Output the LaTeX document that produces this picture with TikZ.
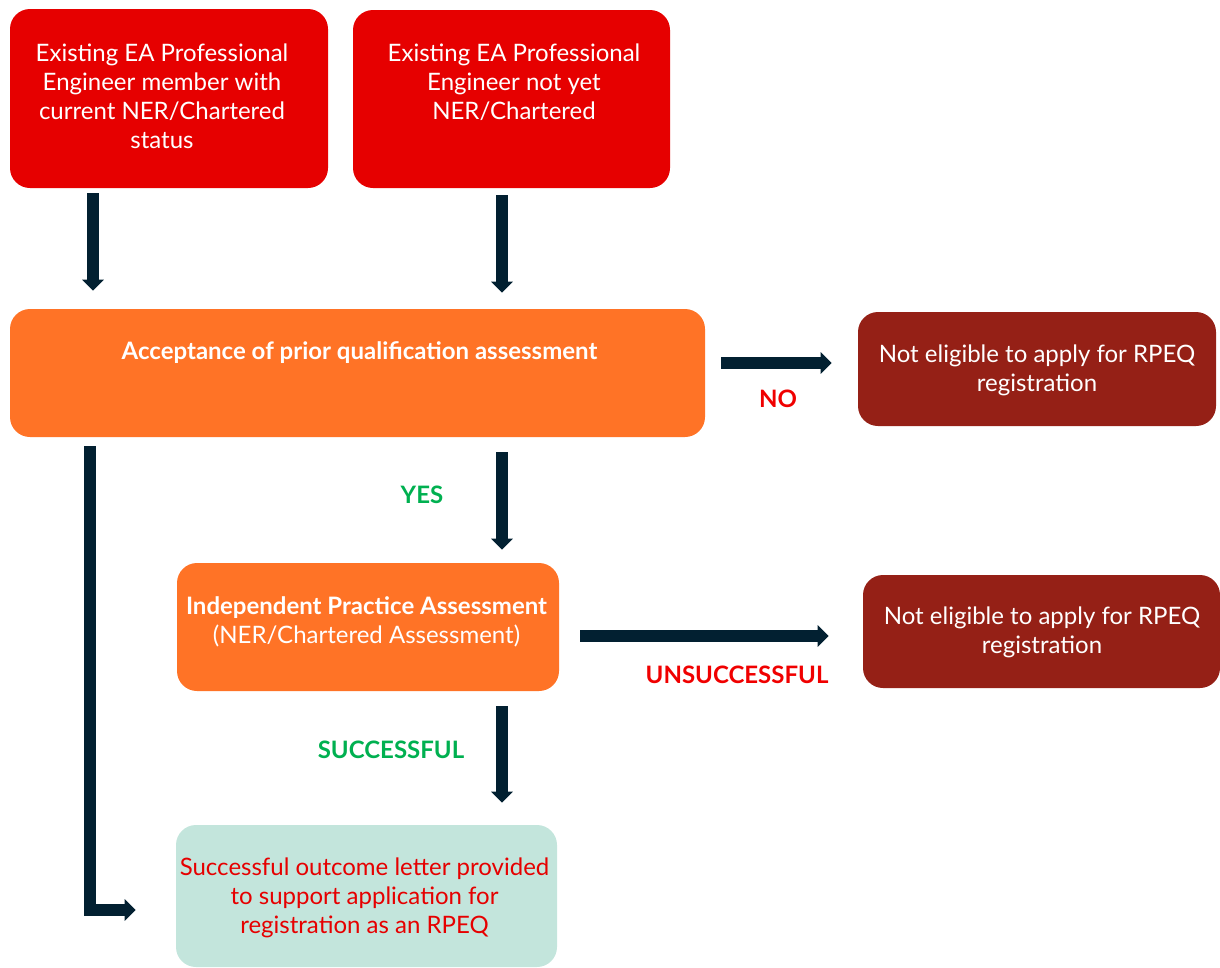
\documentclass[tikz,border=0pt]{standalone}
\usepackage{fontspec}
\setmainfont{Lato}
\usetikzlibrary{arrows.meta}
\definecolor{boxred}{HTML}{E60000}
\definecolor{boxorange}{HTML}{FF7326}
\definecolor{boxdark}{HTML}{952016}
\definecolor{boxmint}{HTML}{C3E5DC}
\definecolor{arrnavy}{HTML}{022031}
\definecolor{labred}{HTML}{F00000}
\definecolor{labgreen}{HTML}{00B050}
\definecolor{txtred}{HTML}{E60000}
\tikzset{
  box/.style={rounded corners=15pt, inner sep=0pt},
  txt/.style={align=center, font=\fontsize{18}{21.75}\selectfont, text=white, inner sep=0pt},
  lab/.style={font=\fontsize{18}{20}\selectfont\bfseries, inner sep=0pt},
  arr/.style={draw=arrnavy, line width=9.4pt, line join=miter,
    -{Triangle[width=15.75pt,length=8.25pt]}}
}
\begin{document}
\begin{tikzpicture}[x=0.75pt,y=-0.75pt]
\useasboundingbox (0,0) rectangle (1220,967);
% boxes
\node[box, fill=boxred, minimum width=238.5pt, minimum height=134.25pt] (A) at (169,98.5) {};
\node[box, fill=boxred, minimum width=237.75pt, minimum height=133.5pt] (B) at (511.5,99) {};
\node[box, fill=boxorange, minimum width=521.25pt, minimum height=96pt] (C) at (357.5,373) {};
\node[box, fill=boxdark, minimum width=268.5pt, minimum height=85.5pt] (D) at (1037,369) {};
\node[box, fill=boxorange, minimum width=286.5pt, minimum height=96pt] (E) at (368,627) {};
\node[box, fill=boxdark, minimum width=267.75pt, minimum height=84.75pt] (F) at (1041.5,631.5) {};
\node[box, fill=boxmint, minimum width=285.75pt, minimum height=106.5pt] (G) at (366.5,896) {};
% texts
\node[txt] (At) at (162,96) {Existing EA Professional\\Engineer member with\\current NER/Chartered\\status};
\node[txt] (Bt) at (514,82.5) {Existing EA Professional\\Engineer not yet\\NER/Chartered};
\node[txt, font=\fontsize{18}{21.75}\selectfont\bfseries] (Ct) at (359.5,353) {Acceptance of prior qualification assessment};
\node[txt] (Dt) at (1037,370.5) {Not eligible to apply for RPEQ\\registration};
\node[txt] (Et) at (366.5,622) {\textbf{Independent Practice Assessment}\\(NER/Chartered Assessment)};
\node[txt] (Ft) at (1042,632.5) {Not eligible to apply for RPEQ\\registration};
\node[txt, text=txtred] (Gt) at (364.5,898) {Successful outcome letter provided\\to support application for\\registration as an RPEQ};
% labels
\node[lab, text=labred] (lno) at (778,399) {NO};
\node[lab, text=labgreen] (lyes) at (422,495) {YES};
\node[lab, text=labred] (lun) at (737,675) {UNSUCCESSFUL};
\node[lab, text=labgreen] (lsu) at (391,750) {SUCCESSFUL};
% arrow guide coordinates
\coordinate (xa) at (93,0);
\coordinate (xb) at (502,0);
\coordinate (yno) at (0,363);
\coordinate (yun) at (0,636);
\coordinate (el) at (90,910);
% arrows
\draw[arr, shorten <=3.75pt, shorten >=13.5pt] (A.south -| xa) -- (C.north -| xa);
\draw[arr, shorten <=5.25pt, shorten >=12pt] (B.south -| xb) -- (C.north -| xb);
\draw[arr, shorten <=12pt, shorten >=19.5pt] (C.east |- yno) -- (D.west |- yno);
\draw[arr, shorten <=11.25pt, shorten >=9.75pt] (C.south -| xb) -- (E.north -| xb);
\draw[arr, shorten <=15.75pt, shorten >=25.5pt] (E.east |- yun) -- (F.west |- yun);
\draw[arr, shorten <=11.25pt, shorten >=16.5pt] (E.south -| xb) -- (G.north -| xb);
\draw[arr, shorten <=6.75pt, shorten >=30pt] (C.south -| el) -- (el) -- (G.west |- el);
\end{tikzpicture}
\end{document}
